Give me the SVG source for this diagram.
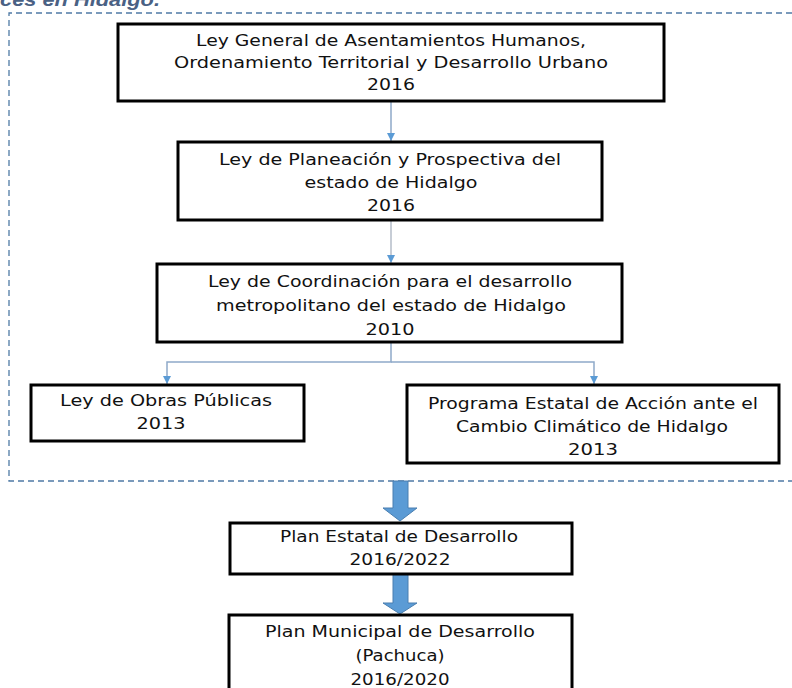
<svg xmlns="http://www.w3.org/2000/svg" width="792" height="688" viewBox="0 0 792 688">
<defs>
<style>
.box{fill:#fff;stroke:#000;stroke-width:3}
.t{font-family:"DejaVu Sans","Liberation Sans",sans-serif;font-size:16.5px;fill:#111;text-anchor:middle}
.con{fill:none;stroke:#8ea9c9;stroke-width:1.5}
.con2{fill:none;stroke:#b4bcc8;stroke-width:1.5}
.big{fill:#5b9bd5;stroke:#4a7fb0;stroke-width:1}
.dash{fill:none;stroke:#4f7aa5;stroke-width:1.3;stroke-dasharray:6 4}
.cap{font-family:"Liberation Sans",Arial,sans-serif;font-size:18px;font-weight:bold;font-style:italic;fill:#4a6184}
</style>
<marker id="ah" markerWidth="10" markerHeight="8" refX="8" refY="4" orient="auto" markerUnits="userSpaceOnUse">
<path d="M0,0 L8,4 L0,8 Z" fill="#5b9bd5"/>
</marker>
</defs>
<rect width="792" height="688" fill="#fff"/>
<text class="cap" x="0" y="6" textLength="160" lengthAdjust="spacingAndGlyphs">ces en Hidalgo.</text>
<path class="dash" d="M792,13 H9 V481 H792"/>
<g id="connectors">
<line class="con" x1="391" y1="101" x2="391" y2="141" marker-end="url(#ah)"/>
<line class="con2" x1="391" y1="221" x2="391" y2="263" marker-end="url(#ah)"/>
<path class="con" d="M391,342 V362 H167 V384" marker-end="url(#ah)"/>
<path class="con" d="M391,362 H594 V384" marker-end="url(#ah)"/>
<path class="big" d="M393,481 H408 V508 H417 L400,521 L383,508 H393 Z"/>
<path class="big" d="M393,574 H408 V603 H417 L400,614 L383,603 H393 Z"/>
</g>
<g id="n1">
<rect class="box" x="118" y="24" width="546" height="77"/>
<text class="t" x="391" y="46" textLength="390" lengthAdjust="spacingAndGlyphs">Ley General de Asentamientos Humanos,</text>
<text class="t" x="391" y="68" textLength="434" lengthAdjust="spacingAndGlyphs">Ordenamiento Territorial y Desarrollo Urbano</text>
<text class="t" x="391" y="90" textLength="48" lengthAdjust="spacingAndGlyphs">2016</text>
</g>
<g id="n2">
<rect class="box" x="178" y="142" width="424" height="78"/>
<text class="t" x="390" y="165" textLength="342" lengthAdjust="spacingAndGlyphs">Ley de Planeación y Prospectiva del</text>
<text class="t" x="391" y="188" textLength="173" lengthAdjust="spacingAndGlyphs">estado de Hidalgo</text>
<text class="t" x="391" y="211" textLength="48" lengthAdjust="spacingAndGlyphs">2016</text>
</g>
<g id="n3">
<rect class="box" x="157" y="264" width="465" height="78"/>
<text class="t" x="390" y="287" textLength="364" lengthAdjust="spacingAndGlyphs">Ley de Coordinación para el desarrollo</text>
<text class="t" x="391" y="311" textLength="350" lengthAdjust="spacingAndGlyphs">metropolitano del estado de Hidalgo</text>
<text class="t" x="390" y="335" textLength="49" lengthAdjust="spacingAndGlyphs">2010</text>
</g>
<g id="n4">
<rect class="box" x="31" y="385" width="273" height="56"/>
<text class="t" x="166" y="406" textLength="212" lengthAdjust="spacingAndGlyphs">Ley de Obras Públicas</text>
<text class="t" x="161" y="429" textLength="49" lengthAdjust="spacingAndGlyphs">2013</text>
</g>
<g id="n5">
<rect class="box" x="407" y="385" width="372" height="78"/>
<text class="t" x="593" y="409" textLength="330" lengthAdjust="spacingAndGlyphs">Programa Estatal de Acción ante el</text>
<text class="t" x="592" y="432" textLength="272" lengthAdjust="spacingAndGlyphs">Cambio Climático de Hidalgo</text>
<text class="t" x="593" y="455" textLength="50" lengthAdjust="spacingAndGlyphs">2013</text>
</g>
<g id="n6">
<rect class="box" x="230" y="523" width="342" height="51"/>
<text class="t" x="399" y="542" textLength="238" lengthAdjust="spacingAndGlyphs">Plan Estatal de Desarrollo</text>
<text class="t" x="400" y="565" textLength="101" lengthAdjust="spacingAndGlyphs">2016/2022</text>
</g>
<g id="n7">
<rect class="box" x="229" y="615" width="343" height="80"/>
<text class="t" x="400" y="637" textLength="270" lengthAdjust="spacingAndGlyphs">Plan Municipal de Desarrollo</text>
<text class="t" x="400" y="661" textLength="89" lengthAdjust="spacingAndGlyphs">(Pachuca)</text>
<text class="t" x="400" y="685" textLength="99" lengthAdjust="spacingAndGlyphs">2016/2020</text>
</g>
</svg>
